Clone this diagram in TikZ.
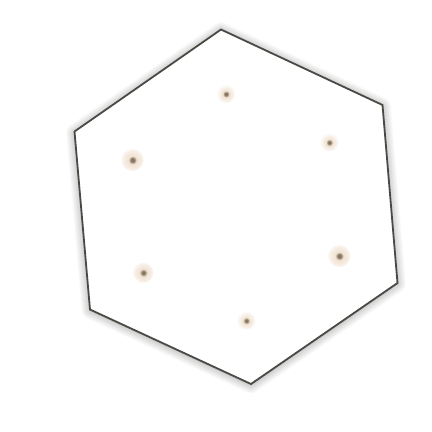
\documentclass[tikz,border=0pt]{standalone}
\usetikzlibrary{shadows.blur}
\definecolor{edgec}{HTML}{4A4A44}
\definecolor{dotc}{HTML}{857560}
\definecolor{haloc}{HTML}{F1E2D2}
\pgfdeclareradialshading{halo}{\pgfpoint{0bp}{0bp}}{color(0bp)=(dotc); color(4bp)=(dotc); color(9bp)=(haloc); color(18bp)=(haloc!50!white); color(28bp)=(white); color(50bp)=(white)}
\pgfdeclareradialshading{halobig}{\pgfpoint{0bp}{0bp}}{color(0bp)=(dotc); color(4bp)=(dotc); color(9bp)=(haloc); color(20bp)=(haloc!60!white); color(30bp)=(white); color(50bp)=(white)}
\tikzset{
  hexedge/.style={draw=edgec, line width=1.8pt, line join=miter, fill=white,
    blur shadow={shadow xshift=0pt, shadow yshift=-1pt, shadow blur radius=9pt, shadow opacity=40, shadow blur steps=24}},
  dotcore/.style={circle, inner sep=0pt, minimum size=3pt},
}
\begin{document}
\begin{tikzpicture}[x=1pt,y=-1pt]
\useasboundingbox (0,0) rectangle (432,432);
\coordinate (v1) at (221,29.5);
\coordinate (v2) at (382.5,105);
\coordinate (v3) at (397.5,283);
\coordinate (v4) at (251,384);
\coordinate (v5) at (90,309.5);
\coordinate (v6) at (74.5,131.5);
\path[hexedge] (v1) -- (v2) -- (v3) -- (v4) -- (v5) -- (v6) -- cycle;
\foreach \n/\p/\s/\r in {d1/{(226,94)}/halo/9, d2/{(329.3,142.5)}/halo/9, d3/{(339.3,256)}/halobig/11, d4/{(246.3,320.7)}/halo/9, d5/{(143.3,272.7)}/halobig/10, d6/{(132.5,160)}/halobig/11}{
  \shade[shading=\s] \p circle (\r);
  \node[dotcore] (\n) at \p {};
}
\end{tikzpicture}
\end{document}
